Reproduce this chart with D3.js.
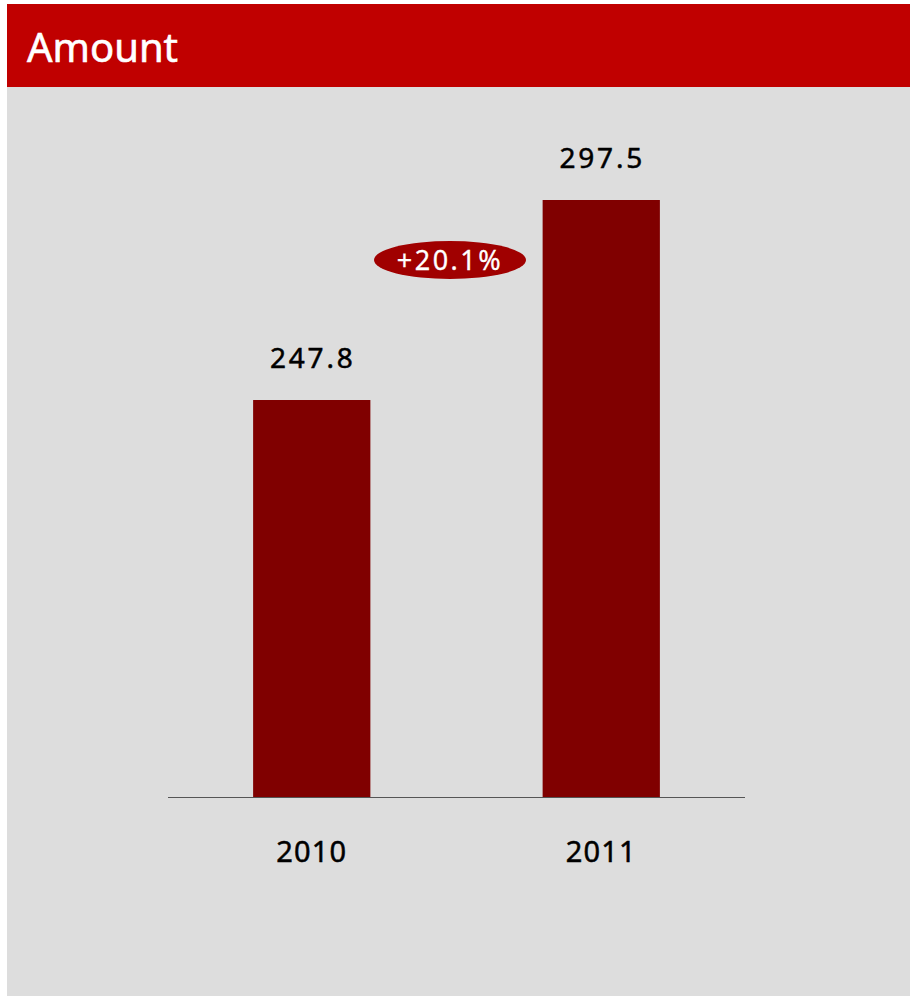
<!DOCTYPE html>
<html><head><meta charset="utf-8">
<script src="https://cdn.jsdelivr.net/npm/d3@7"></script>
<style>body{margin:0;background:#fff;} svg{display:block;}</style>
</head><body>
<script>
const categories = ["2010", "2011"];
const values = [247.8, 297.5];
const valueLabels = ["247.8", "297.5"];
const growthLabel = "+20.1%";
const title = "Amount";

const W = 910, H = 998;
const svg = d3.select("body").append("svg").attr("width", W).attr("height", H);
const font = "'Noto Sans', 'Open Sans', sans-serif";

svg.append("rect").attr("x", 7).attr("y", 87).attr("width", 903).attr("height", 909).attr("fill", "#dddddd");
svg.append("rect").attr("x", 7).attr("y", 4).attr("width", 903).attr("height", 83).attr("fill", "#c00000");
svg.append("text").attr("x", 27).attr("y", 62).attr("fill", "#fff").attr("font-family", font)
  .attr("font-size", 40).attr("stroke", "#fff").attr("stroke-width", 0.6).text(title);

const x = d3.scaleBand().domain(categories).range([168, 745]).paddingInner(0.595).paddingOuter(0.294);
const y = d3.scaleLinear().domain([149.15, 297.5]).range([797, 200]);

svg.selectAll("rect.bar").data(values).join("rect").attr("class", "bar")
  .attr("x", (d, i) => x(categories[i])).attr("width", x.bandwidth())
  .attr("y", d => y(d)).attr("height", d => 797 - y(d)).attr("fill", "#800000");

svg.append("line").attr("x1", 168).attr("x2", 745).attr("y1", 797.5).attr("y2", 797.5)
  .attr("stroke", "#555").attr("stroke-width", 1.2);

svg.selectAll("text.val").data(values).join("text").attr("class", "val")
  .attr("x", (d, i) => x(categories[i]) + x.bandwidth() / 2 + 1).attr("y", d => y(d) - 32)
  .attr("text-anchor", "middle").attr("font-family", font).attr("font-size", 28)
  .attr("stroke", "#000").attr("stroke-width", 0.5)
  .attr("letter-spacing", 2.8).attr("fill", "#000").text((d, i) => valueLabels[i]);

svg.selectAll("text.cat").data(categories).join("text").attr("class", "cat")
  .attr("x", d => x(d) + x.bandwidth() / 2).attr("y", 862)
  .attr("text-anchor", "middle").attr("font-family", font).attr("font-size", 29)
  .attr("stroke", "#000").attr("stroke-width", 0.5)
  .attr("letter-spacing", 1.2).attr("fill", "#000").text(d => d);

const g = svg.append("g").attr("transform", "translate(450,260)");
g.append("ellipse").attr("rx", 76).attr("ry", 19).attr("fill", "#a00000");
g.append("text").attr("y", 10).attr("text-anchor", "middle").attr("fill", "#fff")
  .attr("stroke", "#fff").attr("stroke-width", 0.3)
  .attr("font-family", font).attr("font-size", 27).attr("letter-spacing", 2.5).text(growthLabel);
</script>
</body></html>
